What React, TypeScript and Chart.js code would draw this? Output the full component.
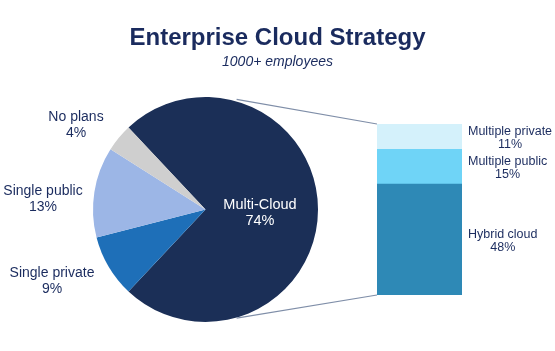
import React, { useEffect, useRef } from "react";
import { Chart, registerables } from "chart.js";

Chart.register(...registerables);

const TITLE = "Enterprise Cloud Strategy";
const SUBTITLE = "1000+ employees";

const pieLabels = ["Multi-Cloud", "Single private", "Single public", "No plans"];
const pieValues = [74, 9, 13, 4];
const pieColors = ["#1b2f57", "#1e6fb8", "#9cb6e6", "#cfcfcf"];

const barLabels = ["Hybrid cloud", "Multiple public", "Multiple private"];
const barValues = [48, 15, 11];
const barColors = ["#2e89b6", "#6fd4f7", "#d4f1fb"];

const TEXT = "#1a2b5e";
const FONT = "'Liberation Sans', Arial, Helvetica, sans-serif";

// label block centers relative to pie center (layout only)
const pieLabelOffsets: [number, number][] = [
  [54.5, 3],
  [-153.5, 72],
  [-162.5, -10.5],
  [-129.5, -84],
];

export default function App() {
  const pieRef = useRef<HTMLCanvasElement>(null);
  const barRef = useRef<HTMLCanvasElement>(null);

  useEffect(() => {
    document.body.style.margin = "0";
    const W = 555;

    const titlePlugin = {
      id: "titles",
      afterDraw(chart: any) {
        const ctx = chart.ctx;
        ctx.save();
        ctx.fillStyle = TEXT;
        ctx.textAlign = "center";
        ctx.textBaseline = "alphabetic";
        ctx.font = `bold 24px ${FONT}`;
        ctx.fillText(TITLE, W / 2, 45);
        ctx.font = `italic 14px ${FONT}`;
        ctx.fillText(SUBTITLE, W / 2, 66);
        ctx.restore();
      },
    };

    const pieLabelPlugin = {
      id: "pieLabels",
      afterDatasetsDraw(chart: any) {
        const ctx = chart.ctx;
        const meta = chart.getDatasetMeta(0);
        const arc = meta.data[0];
        const cx = arc.x;
        const cy = arc.y;
        ctx.save();
        ctx.textAlign = "center";
        ctx.textBaseline = "middle";
        pieLabels.forEach((lab, i) => {
          const [dx, dy] = pieLabelOffsets[i];
          ctx.fillStyle = i === 0 ? "#ffffff" : TEXT;
          ctx.font = i === 0 ? `14.5px ${FONT}` : `14px ${FONT}`;
          const x = cx + dx;
          const y = cy + dy;
          ctx.fillText(lab, x, y - 8);
          ctx.fillText(pieValues[i] + "%", x, y + 8);
        });
        ctx.restore();
      },
    };

    const pie = new Chart(pieRef.current!, {
      type: "pie",
      data: {
        labels: pieLabels,
        datasets: [
          {
            data: pieValues,
            backgroundColor: pieColors,
            borderWidth: 0,
          },
        ],
      },
      options: {
        animation: false,
        responsive: false,
        rotation: -43.2,
        layout: { padding: { left: 93, right: 237, top: 97, bottom: 29 } },
        plugins: {
          legend: { display: false },
          tooltip: { enabled: false },
          title: { display: false },
        },
      },
      plugins: [titlePlugin, pieLabelPlugin],
    });

    const connectorPlugin = {
      id: "connectors",
      afterDraw(chart: any) {
        const ctx = chart.ctx;
        const arc = pie.getDatasetMeta(0).data[0] as any;
        const cx = arc.x;
        const cy = arc.y;
        const r = arc.outerRadius;
        const a = (75 * Math.PI) / 180;
        const area = chart.chartArea;
        ctx.save();
        ctx.strokeStyle = "#7f8ea8";
        ctx.lineWidth = 1.2;
        ctx.beginPath();
        ctx.moveTo(cx + r * Math.cos(-a) + 2, cy + r * Math.sin(-a) - 1.5);
        ctx.lineTo(area.left, area.top);
        ctx.moveTo(cx + r * Math.cos(a) + 2, cy + r * Math.sin(a));
        ctx.lineTo(area.left, area.bottom);
        ctx.stroke();

        ctx.font = `12.5px ${FONT}`;
        ctx.textAlign = "center";
        ctx.textBaseline = "middle";
        ctx.fillStyle = TEXT;
        chart.data.datasets.forEach((ds: any, i: number) => {
          const el = chart.getDatasetMeta(i).data[0] as any;
          const mid = (el.y + el.base) / 2 + 1.5;
          const l1 = barLabels[i];
          const l2 = barValues[i] + "%";
          const w = Math.max(ctx.measureText(l1).width, ctx.measureText(l2).width);
          const x = area.right + 6 + w / 2;
          ctx.fillText(l1, x, mid - 6.5);
          ctx.fillText(l2, x, mid + 6.5);
        });
        ctx.restore();
      },
    };

    const bar = new Chart(barRef.current!, {
      type: "bar",
      data: {
        labels: ["Multi-Cloud"],
        datasets: barLabels.map((lab, i) => ({
          label: lab,
          data: [barValues[i]],
          backgroundColor: barColors[i],
          borderWidth: 0,
          categoryPercentage: 1,
          barPercentage: 1,
        })),
      },
      options: {
        animation: false,
        responsive: false,
        layout: { padding: { left: 377, right: 93, top: 124, bottom: 56 } },
        scales: {
          x: { stacked: true, display: false },
          y: {
            stacked: true,
            display: false,
            min: 0,
            max: barValues.reduce((s, v) => s + v, 0),
          },
        },
        plugins: {
          legend: { display: false },
          tooltip: { enabled: false },
          title: { display: false },
        },
      },
      plugins: [connectorPlugin],
    });

    return () => {
      bar.destroy();
      pie.destroy();
    };
  }, []);

  return (
    <div style={{ position: "relative", width: 555, height: 351, background: "#ffffff" }}>
      <canvas
        ref={pieRef}
        width={555}
        height={351}
        style={{ position: "absolute", left: 0, top: 0, width: 555, height: 351 }}
      />
      <canvas
        ref={barRef}
        width={555}
        height={351}
        style={{ position: "absolute", left: 0, top: 0, width: 555, height: 351 }}
      />
    </div>
  );
}
